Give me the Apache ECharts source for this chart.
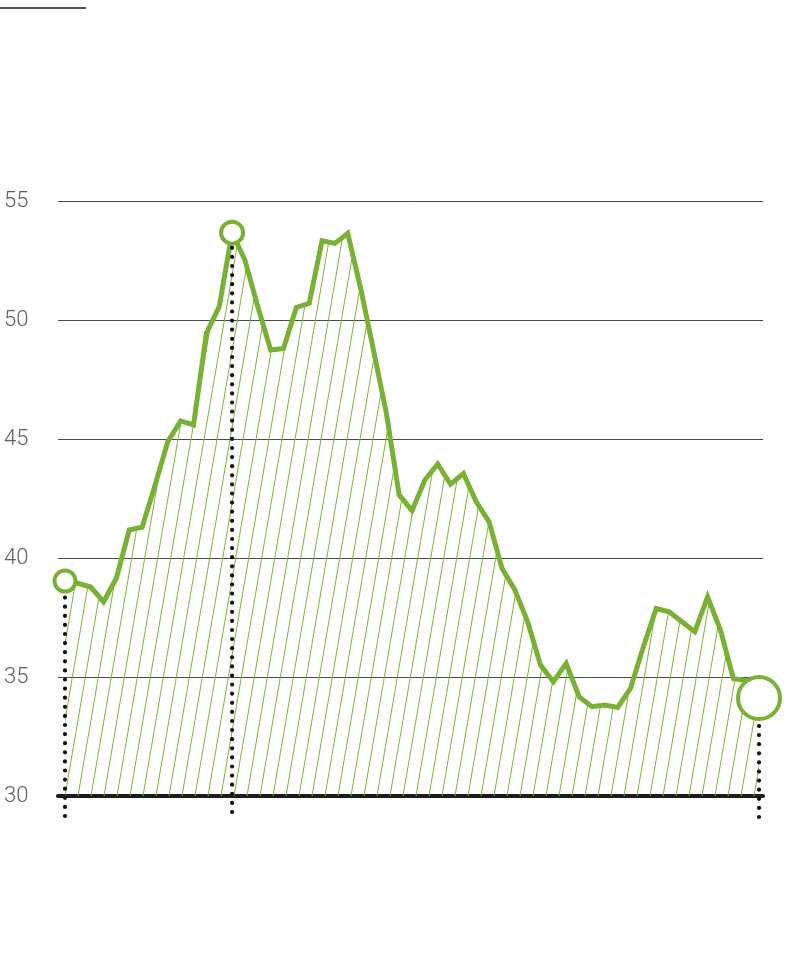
<!DOCTYPE html>
<html>
<head>
<meta charset="utf-8">
<script src="https://cdn.jsdelivr.net/npm/echarts@6/dist/echarts.min.js"></script>
<style>
html,body{margin:0;padding:0;background:#fff;}
#chart{width:808px;height:968px;}
</style>
</head>
<body>
<div id="chart"></div>
<script>
// ---- data ----
const categories = Array.from({length: 55}, (_, i) => i); // period index
const values = [
  39.03, 38.94, 38.78, 38.16, 39.16, 41.18, 41.29, 43.05, 44.89, 45.76,
  45.59, 49.44, 50.56, 53.67, 52.52, 50.56, 48.74, 48.80, 50.53, 50.70,
  53.33, 53.22, 53.64, 51.34, 48.74, 46.10, 42.65, 41.99, 43.28, 43.95,
  43.10, 43.55, 42.36, 41.52, 39.57, 38.66, 37.32, 35.50, 34.80, 35.57,
  34.17, 33.75, 33.82, 33.72, 34.52, 36.27, 37.88, 37.74, 37.32, 36.90,
  38.37, 36.97, 34.94, 34.85, 34.12
];
const highlightIdx = [0, 13, 54];           // start, peak, latest
const yTicks = [30, 35, 40, 45, 50, 55];

// ---- styles ----
const GREEN = '#79b135';
const Y_MIN = yTicks[0], Y_MAX = yTicks[yTicks.length - 1];
const markerSizes = [21, 22, 42];
const dropEnds = [20, 16, 21];   // how far below the baseline each dotted drop line reaches

// hatch pattern
const tile = document.createElement('canvas');
tile.width = 13; tile.height = 76;
const tctx = tile.getContext('2d');
tctx.strokeStyle = '#7db33a';
tctx.lineWidth = 1;
const c0 = 6.16;
for (const off of [-13, 0, 13]) {
  tctx.beginPath();
  tctx.moveTo(c0 + off, 0);
  tctx.lineTo(c0 + off - 13, 76);
  tctx.stroke();
}

const lineData = categories.map((c, i) => [c, values[i]]);
const hiData = highlightIdx.map((idx, k) => ({
  value: [categories[idx], values[idx]],
  symbolSize: markerSizes[k]
}));

const chart = echarts.init(document.getElementById('chart'), null, {renderer: 'canvas'});
chart.setOption({
  animation: false,
  backgroundColor: '#fff',
  grid: {left: 58, right: 45, top: 201, bottom: 172, containLabel: false},
  xAxis: {
    type: 'value',
    min: -0.545,
    max: 54.31,
    axisLabel: {show: false},
    axisTick: {show: false},
    splitLine: {show: false},
    axisLine: {show: true, onZero: false, lineStyle: {color: '#1c1c1c', width: 4}}
  },
  yAxis: {
    type: 'value',
    min: Y_MIN,
    max: Y_MAX,
    interval: 5,
    axisLine: {show: false},
    axisTick: {show: false},
    splitLine: {show: true, lineStyle: {color: '#4a4a4a', width: 1}},
    axisLabel: {
      color: '#5f5f5f',
      fontSize: 22,
      fontFamily: 'Roboto',
      fontWeight: 300,
      align: 'left',
      margin: 54,
      padding: [0, 0, 3, 0]
    }
  },
  graphic: [{
    type: 'line',
    shape: {x1: 0, y1: 8, x2: 86, y2: 8},
    style: {stroke: '#555', lineWidth: 2}
  }],
  series: [
    {
      type: 'line',
      data: lineData,
      showSymbol: false,
      z: 2,
      lineStyle: {color: GREEN, width: 5, join: 'miter'},
      areaStyle: {color: {image: tile, repeat: 'repeat'}, opacity: 1, origin: 'start'}
    },
    {
      type: 'custom',
      z: 3,
      data: highlightIdx.map(idx => [categories[idx], values[idx]]),
      renderItem: function (params, api) {
        const x = api.value(0), y = api.value(1);
        const p = api.coord([x, y]);
        const b = api.coord([x, Y_MIN]);
        const bottom = b[1] + dropEnds[params.dataIndex];
        const children = [];
        for (let yy = bottom; yy > p[1]; yy -= 9.1) {
          children.push({
            type: 'circle',
            shape: {cx: p[0], cy: yy, r: 2.1},
            style: {fill: '#111'}
          });
        }
        return {type: 'group', children: children};
      }
    },
    {
      type: 'scatter',
      z: 4,
      data: hiData,
      symbol: 'circle',
      itemStyle: {color: '#fff', borderColor: GREEN, borderWidth: 4, opacity: 1}
    }
  ]
});
</script>
</body>
</html>
